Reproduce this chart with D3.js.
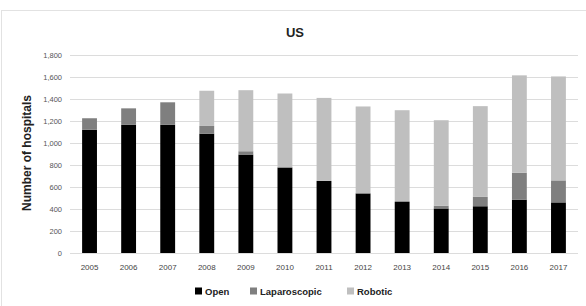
<!DOCTYPE html>
<html><head><meta charset="utf-8">
<script src="https://cdn.jsdelivr.net/npm/d3@7"></script>
<style>body{margin:0;background:#fff}svg{display:block}</style>
</head><body>
<svg id="c" width="586" height="306"></svg>
<script>
const years = ["2005","2006","2007","2008","2009","2010","2011","2012","2013","2014","2015","2016","2017"];
const openVals = [1120,1165,1165,1085,895,778,655,542,464,405,425,485,460];
const lapVals = [105,150,205,70,30,0,0,0,8,25,85,245,200];
const robVals = [0,0,0,320,555,672,755,790,826,777,825,885,945];
const seriesNames = ["Open","Laparoscopic","Robotic"];
const seriesColors = ["#000000","#7f7f7f","#bfbfbf"];
const yTicks = [0,200,400,600,800,1000,1200,1400,1600,1800];

const svg = d3.select("#c");
const W = 586, H = 306;
svg.append("rect").attr("x",1.5).attr("y",10.5).attr("width",W+10).attr("height",H+10)
  .attr("fill","#fff").attr("stroke","#e2e2e2");

const m = {l:70, r:8, t:55, b:53};
const x = d3.scaleBand().domain(years).range([m.l, W-m.r]).paddingInner(0.62).paddingOuter(0.31);
const y = d3.scaleLinear().domain([0,1800]).range([H-m.b, m.t]);

const font = "'Liberation Sans', Arial, sans-serif";
// gridlines
const ya = d3.axisLeft(y).tickValues(yTicks).tickSize(-(W-m.r-m.l)).tickFormat(d3.format(","));
const gy = svg.append("g").attr("transform",`translate(${m.l},0)`).call(ya);
gy.select(".domain").remove();
gy.selectAll(".tick line").attr("stroke","#dcdcdc").attr("stroke-width",1);
gy.selectAll(".tick text").attr("x",-8).attr("fill","#555").style("font-family",font).style("font-size","7.5px");

const xa = d3.axisBottom(x).tickSize(0);
const gx = svg.append("g").attr("transform",`translate(0,${H-m.b})`).call(xa);
gx.select(".domain").remove();
gx.selectAll(".tick text").attr("dy","1.7em").attr("fill","#444").style("font-family",font).style("font-size","8px");

const table = years.map((yr,i)=>({year:yr, Open:openVals[i], Laparoscopic:lapVals[i], Robotic:robVals[i]}));
const stack = d3.stack().keys(seriesNames)(table);
svg.append("g").selectAll("g").data(stack).join("g")
  .attr("fill",(d,i)=>seriesColors[i])
  .selectAll("rect").data(d=>d).join("rect")
  .attr("x",d=>x(d.data.year)).attr("width",x.bandwidth())
  .attr("y",d=>y(d[1])).attr("height",d=>Math.max(0,y(d[0])-y(d[1])));

svg.append("text").attr("x",295).attr("y",37).attr("text-anchor","middle")
  .style("font-family",font).style("font-weight","bold").style("font-size","13px").attr("fill","#222").text("US");

svg.append("text").attr("transform","translate(31,153) rotate(-90)").attr("text-anchor","middle")
  .style("font-family",font).style("font-weight","bold").style("font-size","12px").attr("fill","#222")
  .text("Number of hospitals");

const legX = [195, 250, 347];
const lg = svg.append("g").selectAll("g").data(seriesNames).join("g")
  .attr("transform",(d,i)=>`translate(${legX[i]},291)`);
lg.append("rect").attr("x",0).attr("y",-3.5).attr("width",7).attr("height",7).attr("fill",(d,i)=>seriesColors[i]);
lg.append("text").attr("x",10).attr("y",4).style("font-family",font).style("font-weight","bold")
  .style("font-size","9.5px").attr("fill","#222").text(d=>d);
</script>
</body></html>
